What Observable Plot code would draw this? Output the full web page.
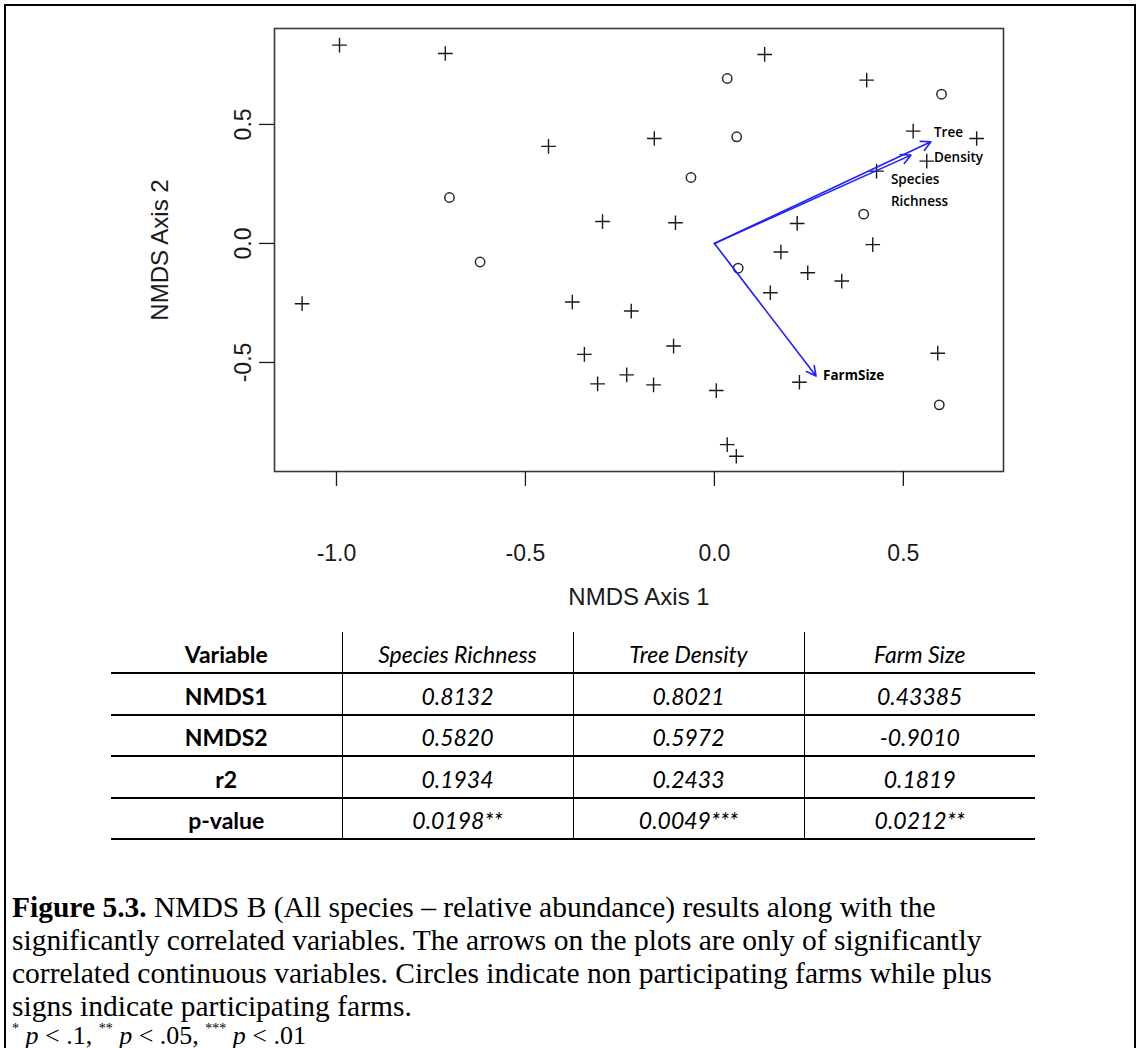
<!DOCTYPE html>
<html>
<head>
<meta charset="utf-8">
<script src="https://cdn.jsdelivr.net/npm/d3@7"></script>
<script src="https://cdn.jsdelivr.net/npm/@observablehq/plot@0.6"></script>
<style>
  html, body { margin: 0; padding: 0; background: #fff; }
  body { width: 1139px; height: 1048px; position: relative; overflow: hidden; }
  #frame { position: absolute; left: 4px; top: 4px; width: 1132px; height: 1100px; border: 2px solid #000; box-sizing: border-box; }
  #chart { position: absolute; left: 0; top: 0; }
  #tbl { position: absolute; left: 111px; top: 632px; border-collapse: collapse; table-layout: fixed; width: 924px;
         font-family: Lato, "Open Sans", sans-serif; font-size: 23px; color: #000; }
  #tbl td { padding: 3px 0 0 0; text-align: center; vertical-align: middle; white-space: nowrap; }
  #tbl tr td { border-bottom: 2px solid #000; }
  #tbl tr:last-child td { border-bottom: 2.5px solid #000; }
  #tbl td + td { border-left: 1px solid #000; }
  #tbl .b { font-weight: bold; }
  #tbl .i { font-style: italic; }
  #caption { position: absolute; left: 12px; top: 891px; font-family: "Liberation Serif", "Times New Roman", serif;
             font-size: 29.5px; line-height: 33px; color: #000; white-space: nowrap; }
  #caption div { height: 33px; }
  #foot { position: absolute; left: 12px; top: 1024px; font-family: "Liberation Serif", serif; font-size: 26px;
          line-height: 24px; white-space: nowrap; }
  #foot sup { font-size: 14px; line-height: 0; vertical-align: 0; position: relative; top: -11px; }
</style>
</head>
<body>
<div id="frame"></div>
<div id="chart"></div>
<table id="tbl"></table>
<div id="caption"></div>
<div id="foot"></div>
<script>
// ---- data ----
const plusX = [-0.992, -0.712, -0.439, -0.296, 0.133, 0.403, -0.159, 0.526, 0.694, 0.562, 0.429, -0.103, 0.219, 0.419, 0.176, 0.247, 0.337, 0.148, -0.220, -0.108, 0.591, -0.161, 0.005, 0.225, 0.034, 0.058, -1.091, -0.376, -0.344, -0.309, -0.232];
const plusY = [0.833, 0.798, 0.408, 0.092, 0.794, 0.686, 0.441, 0.472, 0.441, 0.346, 0.304, 0.087, 0.084, -0.005, -0.036, -0.123, -0.158, -0.207, -0.284, -0.431, -0.461, -0.594, -0.618, -0.583, -0.845, -0.894, -0.253, -0.246, -0.466, -0.590, -0.552];
const circleX = [-0.701, 0.034, 0.601, 0.059, -0.062, 0.395, 0.063, -0.620, 0.595];
const circleY = [0.193, 0.693, 0.627, 0.448, 0.277, 0.123, -0.104, -0.078, -0.678];

const vectorNames = ["Species Richness", "Tree Density", "Farm Size"];
const vectorLabels = ["Species\nRichness", "Tree\nDensity", "FarmSize"];
const vectorX = [0.520, 0.573, 0.269];
const vectorY = [0.371, 0.427, -0.557];

const xTicks = [-1.0, -0.5, 0.0, 0.5];
const yTicks = [-0.5, 0.0, 0.5];
const xTitle = "NMDS Axis 1";
const yTitle = "NMDS Axis 2";

const tableHeader = ["Variable", "Species Richness", "Tree Density", "Farm Size"];
const tableRows = ["NMDS1", "NMDS2", "r2", "p-value"];
const speciesRichness = ["0.8132", "0.5820", "0.1934", "0.0198**"];
const treeDensity = ["0.8021", "0.5972", "0.2433", "0.0049***"];
const farmSize = ["0.43385", "-0.9010", "0.1819", "0.0212**"];

const captionLines = [
  "NMDS B (All species \u2013 relative abundance) results along with the",
  "significantly correlated variables. The arrows on the plots are only of significantly",
  "correlated continuous variables. Circles indicate non participating farms while plus",
  "signs indicate participating farms."
];

// ---- chart ----
const W = 1139, H = 620;
const plusIdx = d3.range(plusX.length);
const circIdx = d3.range(circleX.length);
const vecIdx = d3.range(vectorX.length);
const fmt = d => d.toFixed(1);

const chart = Plot.plot({
  width: W, height: H,
  marginLeft: 274, marginRight: 136, marginTop: 28, marginBottom: H - 471,
  x: {domain: [-1.164, 0.765], label: null},
  y: {domain: [-0.958, 0.903], label: null},
  style: {background: "transparent", fontFamily: "'Liberation Sans', Arial, sans-serif", color: "#1a1a1a", overflow: "visible"},
  marks: [
    Plot.frame({stroke: "#3a3a3a", strokeWidth: 1.6}),
    Plot.axisX({ticks: xTicks, tickSize: 15, tickPadding: 58, tickFormat: fmt, fontSize: 23, label: null, strokeWidth: 1.3}),
    Plot.axisY({ticks: yTicks, tickSize: 15, tickFormat: () => "", label: null, strokeWidth: 1.3}),
    Plot.text(yTicks, {y: d => d, text: fmt, frameAnchor: "left", dx: -31, rotate: -90, fontSize: 23,
                       textAnchor: "middle", lineAnchor: "middle", fill: "#1a1a1a"}),
    Plot.text([xTitle], {frameAnchor: "bottom", dy: 126, text: d => d, fontSize: 24, lineAnchor: "middle", fill: "#1a1a1a"}),
    Plot.text([yTitle], {frameAnchor: "left", dx: -114, rotate: -90, text: d => d, fontSize: 24,
                         textAnchor: "middle", lineAnchor: "middle", fill: "#1a1a1a"}),
    Plot.dot(plusIdx, {x: i => plusX[i], y: i => plusY[i], symbol: "plus", r: 4.8, stroke: "#1a1a1a", strokeWidth: 1.4}),
    Plot.dot(circIdx, {x: i => circleX[i], y: i => circleY[i], symbol: "circle", r: 4.7, stroke: "#2a2a2a", strokeWidth: 1.5, fill: "none"}),
    Plot.arrow(vecIdx, {x1: () => 0, y1: () => 0, x2: i => vectorX[i], y2: i => vectorY[i],
                        stroke: "#1f1fff", strokeWidth: 1.6, headLength: 10, headAngle: 55}),
    Plot.text([1], {x: i => vectorX[i], y: i => vectorY[i], text: i => vectorLabels[i], textAnchor: "start",
                    lineAnchor: "middle", dx: 3, dy: 0, lineHeight: 1.8, fontSize: 13.5, fontWeight: 600,
                    fontFamily: "'Open Sans', sans-serif", fill: "#000"}),
    Plot.text([0], {x: i => vectorX[i], y: i => vectorY[i], text: i => vectorLabels[i], textAnchor: "start",
                    lineAnchor: "middle", dx: -20, dy: 33, lineHeight: 1.6, fontSize: 13.5, fontWeight: 600,
                    fontFamily: "'Open Sans', sans-serif", fill: "#000"}),
    Plot.text([2], {x: i => vectorX[i], y: i => vectorY[i], text: i => vectorLabels[i], textAnchor: "start",
                    lineAnchor: "middle", dx: 7, dy: 0, fontSize: 13.5, fontWeight: 700,
                    fontFamily: "'Open Sans', sans-serif", fill: "#000"})
  ]
});
document.getElementById("chart").appendChild(chart);

// ---- table ----
const tbl = d3.select("#tbl");
const cg = tbl.append("colgroup");
tableHeader.forEach(() => cg.append("col").style("width", "231px"));
const hr = tbl.append("tr").style("height", "41px");
tableHeader.forEach((h, j) => hr.append("td").attr("class", j === 0 ? "b" : "i").text(h));
const rowHeights = [42, 41, 42, 41];
tableRows.forEach((r, k) => {
  const tr = tbl.append("tr").style("height", rowHeights[k] + "px");
  tr.append("td").attr("class", "b").text(r);
  [speciesRichness, treeDensity, farmSize].forEach(col => tr.append("td").attr("class", "i").text(col[k]));
});

// ---- caption ----
const cap = d3.select("#caption");
const first = cap.append("div");
first.append("b").text("Figure 5.3.");
first.append("span").text(" " + captionLines[0]);
captionLines.slice(1).forEach(l => cap.append("div").text(l));
d3.select("#foot").html("<sup>*</sup> <i>p</i> &lt; .1, <sup>**</sup> <i>p</i> &lt; .05, <sup>***</sup> <i>p</i> &lt; .01");
</script>
</body>
</html>
